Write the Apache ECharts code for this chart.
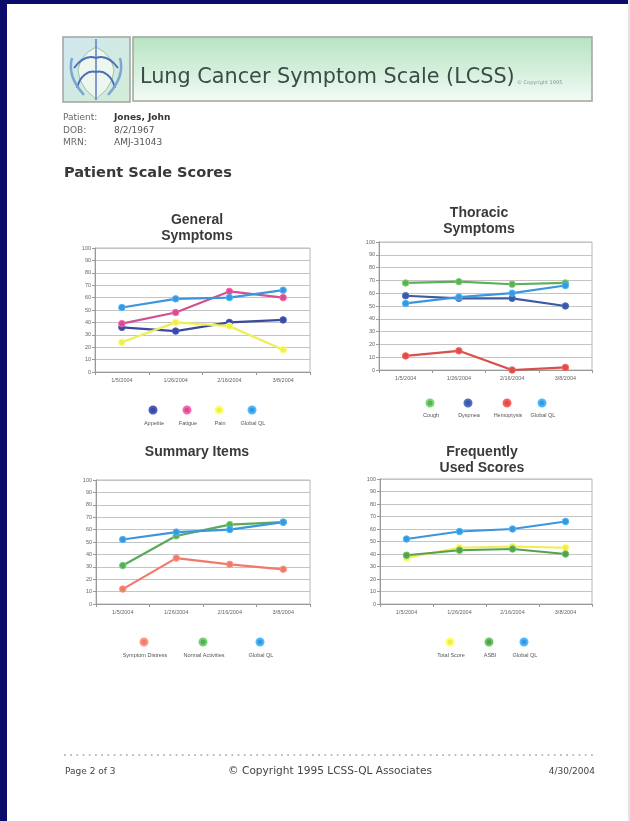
<!DOCTYPE html>
<html>
<head>
<meta charset="utf-8">
<script src="https://cdn.jsdelivr.net/npm/echarts@6/dist/echarts.min.js"></script>
<style>
html,body{margin:0;padding:0;background:#fff;}
#main{width:630px;height:821px;}
</style>
</head>
<body>
<div id="main"></div>
<script>
// ---------- data ----------
const dates = ['1/5/2004', '1/26/2004', '2/16/2004', '3/8/2004'];

// General Symptoms
const appetite = [36, 33, 40, 42];
const fatigue = [39, 48, 65, 60];
const pain = [24, 40, 37, 18];
const globalQL1 = [52, 59, 60, 66];

// Thoracic Symptoms
const cough = [68, 69, 67, 68];
const dyspnea = [58, 56, 56, 50];
const hemoptysis = [11, 15, 0, 2];
const globalQL2 = [52, 57, 60, 66];

// Summary Items
const symptomDistress = [12, 37, 32, 28];
const normalActivities = [31, 55, 64, 66];
const globalQL3 = [52, 58, 60, 66];

// Frequently Used Scores
const totalScore = [37, 45, 46, 45];
const asbi = [39, 43, 44, 40];
const globalQL4 = [52, 58, 60, 66];

const chartTitles = ['General\nSymptoms', 'Thoracic\nSymptoms', 'Summary Items', 'Frequently\nUsed Scores'];
const seriesNames = [
  ['Appetite', 'Fatigue', 'Pain', 'Global QL'],
  ['Cough', 'Dyspnea', 'Hemoptysis', 'Global QL'],
  ['Symptom Distress', 'Normal Activities', 'Global QL'],
  ['Total Score', 'ASBI', 'Global QL']
];
const seriesValues = [
  [appetite, fatigue, pain, globalQL1],
  [cough, dyspnea, hemoptysis, globalQL2],
  [symptomDistress, normalActivities, globalQL3],
  [totalScore, asbi, globalQL4]
];

// ---------- layout / style ----------
const colors = [
  ['#3b4a9c', '#d2508e', '#eeee55', '#3d95dc'],
  ['#5fae5a', '#3e5a9e', '#d8504a', '#3d95dc'],
  ['#f07a6a', '#5aab5a', '#3d95dc'],
  ['#eeee50', '#56a050', '#3d95dc']
];
const layout = [
  {grid: {left: 95, top: 248, width: 215, height: 124}, title: [197, 212.5], legendX: [153, 187, 219, 252], legendY: [409, 420]},
  {grid: {left: 379, top: 242, width: 213, height: 128}, title: [479, 205.5], legendX: [430, 468, 507, 542], legendY: [402, 412]},
  {grid: {left: 96, top: 480, width: 214, height: 124}, title: [197, 444.5], legendX: [144, 203, 260], legendY: [641, 652]},
  {grid: {left: 380, top: 479, width: 212, height: 125}, title: [482, 444.5], legendX: [450, 489, 524], legendY: [641, 652]}
];

const FONT = '"DejaVu Sans", Verdana, sans-serif';
const CFONT = '"Liberation Sans", Arial, sans-serif';
const cv = document.createElement('canvas').getContext('2d');
function textW(t, size, weight, fam) { cv.font = (weight || 'normal') + ' ' + size + 'px ' + fam; return cv.measureText(t).width; }
function fit(t, target, weight, fam) { return 100 * target / textW(t, 100, weight, fam); }

const grids = [], xAxes = [], yAxes = [], series = [], legends = [], titles = [];
layout.forEach((L, i) => {
  grids.push(Object.assign({show: true, borderColor: '#b8b8b8', borderWidth: 1, backgroundColor: '#fff'}, L.grid));
  xAxes.push({
    type: 'category', gridIndex: i, data: dates, boundaryGap: true,
    axisLine: {lineStyle: {color: '#999', width: 1}},
    axisTick: {show: true, length: 3, lineStyle: {color: '#999'}},
    axisLabel: {fontSize: 5.5, color: '#666', margin: 5, fontFamily: CFONT}
  });
  yAxes.push({
    type: 'value', gridIndex: i, min: 0, max: 100, interval: 10,
    axisLine: {show: true, lineStyle: {color: '#999', width: 1}},
    axisTick: {show: true, length: 3, lineStyle: {color: '#999'}},
    axisLabel: {fontSize: 5.5, color: '#666', margin: 4, fontFamily: CFONT},
    splitLine: {lineStyle: {color: '#c4c4c4', width: 1}}
  });
  titles.push({
    text: chartTitles[i], left: L.title[0], top: L.title[1], textAlign: 'center', padding: 0,
    textStyle: {fontSize: 14, fontWeight: 'bold', color: '#3a3a3a', fontFamily: CFONT, lineHeight: 15.5}
  });
  seriesNames[i].forEach((name, j) => {
    const c = colors[i][j];
    series.push({
      type: 'line', name: name, xAxisIndex: i, yAxisIndex: i, data: seriesValues[i][j],
      symbol: 'circle', symbolSize: 6.5, z: 3 + j,
      lineStyle: {color: c, width: 2.2},
      itemStyle: {color: c, borderColor: echarts.color.lift(c, -0.25), borderWidth: 1}
    });
    const cx = L.legendX[j];
    legends.push({
      data: [name], left: cx - 4.5, top: L.legendY[0] - 3.5, padding: 0,
      icon: 'circle', itemWidth: 9, itemHeight: 7, formatter: () => '',
      itemStyle: {color: c}
    });
    const tw = textW(name, 5.5, 'normal', CFONT);
    legends.push({
      data: [name], left: cx - tw / 2 - 5, top: L.legendY[1], padding: 0,
      icon: 'rect', itemWidth: 0, itemHeight: 0,
      textStyle: {fontSize: 5.5, color: '#555', fontFamily: CFONT}
    });
  });
});

// ---------- page decoration ----------
const titleText = 'Lung Cancer Symptom Scale (LCSS)';
const titleSize = fit(titleText, 375, 'normal', FONT);
const scoresSize = fit('Patient Scale Scores', 168, 'bold', FONT);
const copySize = fit('\u00a9 Copyright 1995 LCSS-QL Associates', 204, 'normal', FONT);

function curve(x1, y1, cpx1, cpy1, cpx2, cpy2, x2, y2, color, w) {
  return {type: 'bezierCurve', silent: true, shape: {x1, y1, cpx1, cpy1, cpx2, cpy2, x2, y2}, style: {stroke: color, lineWidth: w, fill: null}};
}

const graphic = [
  {type: 'rect', shape: {x: 0, y: 0, width: 7, height: 821}, style: {fill: '#0b0b6b'}, silent: true},
  {type: 'rect', shape: {x: 0, y: 0, width: 630, height: 4}, style: {fill: '#0b0b6b'}, silent: true},
  {type: 'rect', shape: {x: 628, y: 0, width: 2, height: 821}, style: {fill: '#e4e4e4'}, silent: true},
  // banner
  {type: 'rect', shape: {x: 133, y: 37, width: 459, height: 64},
    style: {fill: new echarts.graphic.LinearGradient(0, 0, 0, 1, [{offset: 0, color: '#b6e3c2'}, {offset: 0.55, color: '#d6f0dd'}, {offset: 1, color: '#f4fbf6'}]), stroke: '#9ea59f', lineWidth: 1.5}, silent: true},
  {type: 'rect', shape: {x: 63, y: 37, width: 67, height: 65},
    style: {fill: new echarts.graphic.LinearGradient(0, 0, 1, 1, [{offset: 0, color: '#cfe7f0'}, {offset: 1, color: '#d4ecd6'}]), stroke: '#9ea59f', lineWidth: 1.5}, silent: true},
  // leaf logo
  {type: 'polygon', silent: true, shape: {points: [[96, 47], [104, 52], [111, 60], [114, 70], [112, 80], [106, 90], [96, 99], [86, 90], [80, 80], [78, 70], [81, 60], [88, 52]]},
    style: {fill: '#eef7ef', stroke: '#9cc4aa', lineWidth: 1}},
  {type: 'line', silent: true, shape: {x1: 96, y1: 39, x2: 96, y2: 100}, style: {stroke: '#5a7fc0', lineWidth: 1.5}},
  curve(96, 58, 88, 55, 80, 60, 74, 68, '#4a6fb5', 2),
  curve(96, 58, 104, 55, 112, 60, 118, 68, '#4a6fb5', 2),
  curve(96, 72, 88, 70, 80, 76, 77, 88, '#4a6fb5', 2),
  curve(96, 72, 104, 70, 112, 76, 115, 88, '#4a6fb5', 2),
  curve(72, 58, 68, 72, 74, 84, 84, 95, '#7aa6d4', 2.5),
  curve(120, 58, 124, 72, 118, 84, 108, 95, '#7aa6d4', 2.5),
  {type: 'text', silent: true, style: {text: titleText, x: 140, y: 78, font: 'normal ' + titleSize.toFixed(2) + 'px ' + FONT, fill: '#3c4b47', verticalAlign: 'middle'}},
  {type: 'text', silent: true, style: {text: '\u00a9 Copyright 1995', x: 517, y: 83, font: 'normal 5px ' + FONT, fill: '#8a9690', verticalAlign: 'middle'}},
  // patient info
  {type: 'text', silent: true, style: {text: 'Patient:', x: 63, y: 118, font: 'normal 9px ' + FONT, fill: '#666', verticalAlign: 'middle'}},
  {type: 'text', silent: true, style: {text: 'DOB:', x: 63, y: 131, font: 'normal 9px ' + FONT, fill: '#666', verticalAlign: 'middle'}},
  {type: 'text', silent: true, style: {text: 'MRN:', x: 63, y: 143, font: 'normal 9px ' + FONT, fill: '#666', verticalAlign: 'middle'}},
  {type: 'text', silent: true, style: {text: 'Jones, John', x: 114, y: 118, font: 'bold 9px ' + FONT, fill: '#333', verticalAlign: 'middle'}},
  {type: 'text', silent: true, style: {text: '8/2/1967', x: 114, y: 131, font: 'normal 9px ' + FONT, fill: '#555', verticalAlign: 'middle'}},
  {type: 'text', silent: true, style: {text: 'AMJ-31043', x: 114, y: 143, font: 'normal 9px ' + FONT, fill: '#555', verticalAlign: 'middle'}},
  {type: 'text', silent: true, style: {text: 'Patient Scale Scores', x: 64, y: 173, font: 'bold ' + scoresSize.toFixed(2) + 'px ' + FONT, fill: '#383838', verticalAlign: 'middle'}},
  // footer
  {type: 'line', silent: true, shape: {x1: 64, y1: 755, x2: 595, y2: 755}, style: {stroke: '#a8a8a8', lineWidth: 1.6, lineDash: [1.8, 4.4]}},
  {type: 'text', silent: true, style: {text: 'Page 2 of 3', x: 65, y: 772, font: 'normal 9px ' + FONT, fill: '#444', verticalAlign: 'middle'}},
  {type: 'text', silent: true, style: {text: '\u00a9 Copyright 1995 LCSS-QL Associates', x: 330, y: 771, font: 'normal ' + copySize.toFixed(2) + 'px ' + FONT, fill: '#444', align: 'center', verticalAlign: 'middle'}},
  {type: 'text', silent: true, style: {text: '4/30/2004', x: 595, y: 772, font: 'normal 9px ' + FONT, fill: '#444', align: 'right', verticalAlign: 'middle'}}
];

const chart = echarts.init(document.getElementById('main'), null, {renderer: 'canvas'});
chart.setOption({
  animation: false,
  backgroundColor: '#ffffff',
  title: titles,
  grid: grids,
  xAxis: xAxes,
  yAxis: yAxes,
  legend: legends,
  series: series,
  graphic: graphic
});
</script>
</body>
</html>
